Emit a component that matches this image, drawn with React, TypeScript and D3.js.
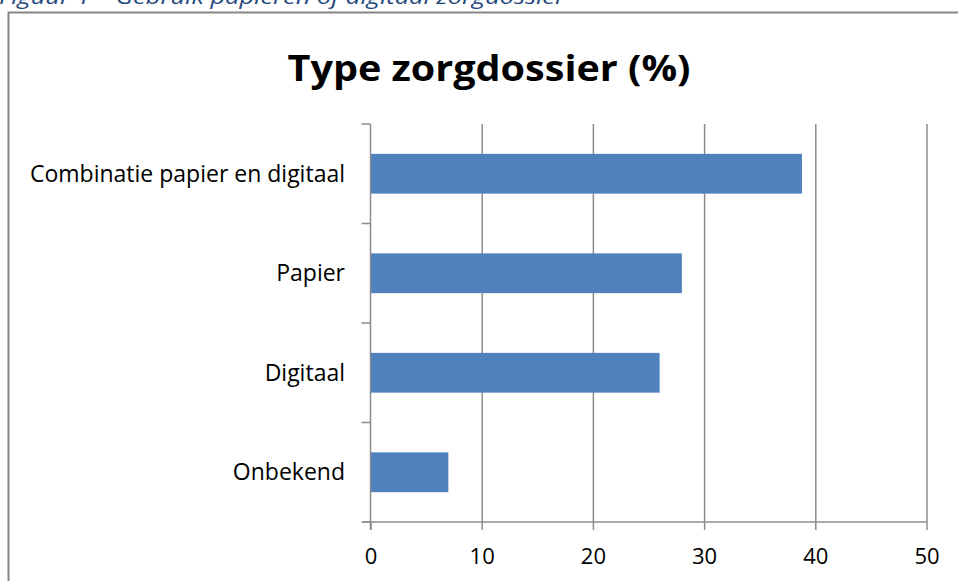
import React, { useEffect, useRef } from "react";
import * as d3 from "d3";

const categories = [
  "Combinatie papier en digitaal",
  "Papier",
  "Digitaal",
  "Onbekend",
];
const values = [38.8, 28.0, 26.0, 7.0];
const xTicks = [0, 10, 20, 30, 40, 50];

const App = () => {
  const svgRef = useRef<SVGSVGElement>(null);

  useEffect(() => {
    const svg = d3.select(svgRef.current);
    svg.selectAll("*").remove(); // Clear previous drawings

    const width = 958;
    const height = 581;
    const plot = { left: 370.5, right: 926.5, top: 124, bottom: 522 };

    const xScale = d3.scaleLinear().domain([0, 50]).range([plot.left, plot.right]);
    const yScale = d3
      .scaleBand()
      .domain(categories)
      .range([plot.top, plot.bottom])
      .paddingInner(0.6)
      .paddingOuter(0.3);

    svg.append("rect").attr("width", width).attr("height", height).attr("fill", "#fff");

    // Caption above the chart, cut off at the top
    svg
      .append("text")
      .attr("x", -1)
      .attr("y", 4)
      .attr("font-family", "'Open Sans', sans-serif")
      .attr("font-style", "italic")
      .attr("font-size", 20)
      .attr("fill", "#1f497d")
      .attr("textLength", 566)
      .attr("lengthAdjust", "spacingAndGlyphs")
      .text("Figuur 1 – Gebruik papieren of digitaal zorgdossier");

    // Chart frame
    svg
      .append("rect")
      .attr("x", 8.5)
      .attr("y", 12.5)
      .attr("width", 960)
      .attr("height", 600)
      .attr("fill", "#fff")
      .attr("stroke", "#868686")
      .attr("stroke-width", 2);

    // Title
    svg
      .append("text")
      .attr("x", 489)
      .attr("y", 81)
      .attr("text-anchor", "middle")
      .attr("font-family", "'Open Sans', sans-serif")
      .attr("font-weight", "bold")
      .attr("font-size", 36)
      .attr("fill", "#000")
      .attr("textLength", 403)
      .attr("lengthAdjust", "spacingAndGlyphs")
      .text("Type zorgdossier (%)");

    // Vertical grid lines
    svg
      .append("g")
      .attr("transform", `translate(0, ${plot.bottom})`)
      .call(
        d3
          .axisBottom(xScale)
          .tickValues(xTicks.slice(1))
          .tickSize(-(plot.bottom - plot.top))
          .tickFormat(() => "")
      )
      .call((g) => g.select(".domain").remove())
      .selectAll(".tick line")
      .attr("stroke", "#8c8c8c")
      .attr("stroke-width", 1.5);

    // Bars
    svg
      .append("g")
      .selectAll("rect")
      .data(categories)
      .join("rect")
      .attr("x", xScale(0))
      .attr("y", (d) => yScale(d)!)
      .attr("width", (d, i) => xScale(values[i]) - xScale(0))
      .attr("height", yScale.bandwidth())
      .attr("fill", "#4f81bd");

    // X axis
    const xAxis = svg
      .append("g")
      .attr("transform", `translate(0, ${plot.bottom})`)
      .call(
        d3
          .axisBottom(xScale)
          .tickValues(xTicks)
          .tickSize(8)
          .tickSizeOuter(0)
          .tickPadding(18)
      );
    xAxis
      .select(".domain")
      .attr("d", `M${plot.left - 8},0H${plot.right}`)
      .attr("stroke", "#8c8c8c")
      .attr("stroke-width", 1.5);
    xAxis.selectAll(".tick line").attr("stroke", "#8c8c8c").attr("stroke-width", 1.5);
    xAxis
      .selectAll(".tick text")
      .attr("font-family", "'Open Sans', sans-serif")
      .attr("font-size", 22)
      .attr("fill", "#000");

    // Y axis with category boundary ticks
    const step = yScale.step();
    const boundaries = d3.range(categories.length + 1).map((i) => plot.top + i * step);
    const yAxis = svg.append("g");
    yAxis
      .append("line")
      .attr("x1", plot.left)
      .attr("x2", plot.left)
      .attr("y1", plot.top)
      .attr("y2", plot.bottom + 8)
      .attr("stroke", "#8c8c8c")
      .attr("stroke-width", 1.5);
    yAxis
      .selectAll("line.tick")
      .data(boundaries)
      .join("line")
      .attr("class", "tick")
      .attr("x1", plot.left - 9)
      .attr("x2", plot.left)
      .attr("y1", (d) => d)
      .attr("y2", (d) => d)
      .attr("stroke", "#8c8c8c")
      .attr("stroke-width", 1.5);
    yAxis
      .selectAll("text")
      .data(categories)
      .join("text")
      .attr("x", 345)
      .attr("y", (d) => yScale(d)! + yScale.bandwidth() / 2)
      .attr("dy", "0.35em")
      .attr("text-anchor", "end")
      .attr("font-family", "'Open Sans', sans-serif")
      .attr("font-size", 23)
      .attr("fill", "#000")
      .text((d) => d);
  }, []);

  return (
    <svg
      ref={svgRef}
      width={958}
      height={581}
      style={{ position: "absolute", left: 0, top: 0, display: "block" }}
    />
  );
};

export default App;
